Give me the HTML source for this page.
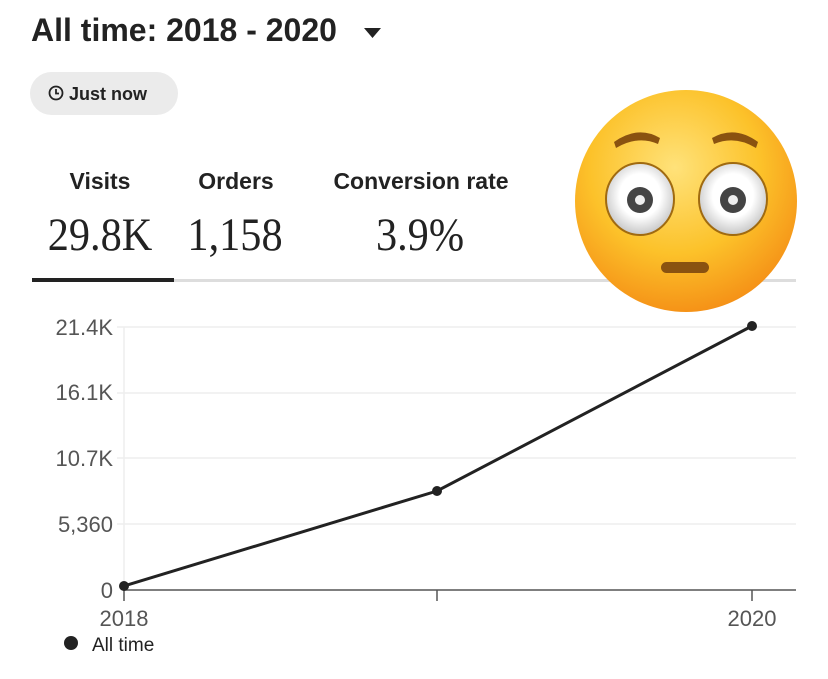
<!DOCTYPE html>
<html><head><style>
body{margin:0;width:828px;height:679px;background:#fff;position:relative;overflow:hidden;font-family:"Liberation Sans",sans-serif;color:#222}
.a{position:absolute;white-space:nowrap}
.lab{font-weight:bold;font-size:23px;transform:translateX(-50%);top:168px;color:#222}
.val{font-family:"Liberation Serif",serif;font-size:47px;top:208px;transform:translateX(-50%) scaleX(0.9);color:#222}
</style></head><body>
<div class="a" style="left:31px;top:12px;font-size:32px;font-weight:bold;color:#222">All time: 2018 - 2020</div>
<svg class="a" style="left:364px;top:28px" width="18" height="12"><polygon points="0,0 17,0 8.5,10" fill="#222"/></svg>
<div class="a" style="left:30px;top:72px;width:148px;height:43px;border-radius:22px;background:#ebebeb"></div>
<svg class="a" style="left:47px;top:84px" width="18" height="18"><circle cx="9" cy="9" r="6.5" fill="none" stroke="#222" stroke-width="1.8"/><path d="M9 5v4.5h3" fill="none" stroke="#222" stroke-width="1.8"/></svg>
<div class="a" style="left:69px;top:84px;font-size:18px;font-weight:bold;color:#222">Just now</div>
<div class="a lab" style="left:100px">Visits</div>
<div class="a lab" style="left:236px">Orders</div>
<div class="a lab" style="left:421px">Conversion rate</div>
<div class="a val" style="left:100px">29.8K</div>
<div class="a val" style="left:235px">1,158</div>
<div class="a val" style="left:420px">3.9%</div>
<div class="a" style="left:32px;top:279px;width:764px;height:3px;background:#ddd"></div>
<div class="a" style="left:32px;top:278px;width:142px;height:4px;background:#222"></div>
<svg class="a" style="left:0;top:0" width="828" height="679">
<g stroke="#eee" stroke-width="1.5">
<line x1="124" y1="327" x2="796" y2="327"/><line x1="124" y1="393" x2="796" y2="393"/><line x1="124" y1="458" x2="796" y2="458"/><line x1="124" y1="524" x2="796" y2="524"/><line x1="124" y1="327" x2="124" y2="590"/>
</g>
<g stroke="#eee" stroke-width="1.5"><line x1="117" y1="327" x2="124" y2="327"/><line x1="117" y1="393" x2="124" y2="393"/><line x1="117" y1="458" x2="124" y2="458"/><line x1="117" y1="524" x2="124" y2="524"/></g>
<line x1="124" y1="590" x2="796" y2="590" stroke="#555" stroke-width="1.5"/>
<g stroke="#555" stroke-width="1.5"><line x1="124" y1="590" x2="124" y2="601"/><line x1="437" y1="590" x2="437" y2="601"/><line x1="752" y1="590" x2="752" y2="601"/></g>
<polyline points="124,586 437,491 752,326" fill="none" stroke="#222" stroke-width="3"/>
<circle cx="124" cy="586" r="5" fill="#222"/><circle cx="437" cy="491" r="5" fill="#222"/><circle cx="752" cy="326" r="5" fill="#222"/>
<circle cx="71" cy="643" r="7" fill="#222"/>
<text x="92" y="651" font-size="19" fill="#222" font-family="Liberation Sans">All time</text>
<text x="124" y="626" font-size="22" fill="#555" text-anchor="middle" font-family="Liberation Sans">2018</text>
<text x="752" y="626" font-size="22" fill="#555" text-anchor="middle" font-family="Liberation Sans">2020</text>
<g font-size="22" fill="#555" text-anchor="end" font-family="Liberation Sans">
<text x="113" y="335">21.4K</text><text x="113" y="400">16.1K</text><text x="113" y="466">10.7K</text><text x="113" y="532">5,360</text><text x="113" y="598">0</text></g>
<defs>
<radialGradient id="f" cx="45%" cy="35%" r="70%"><stop offset="0" stop-color="#ffe27a"/><stop offset="0.55" stop-color="#fcc22a"/><stop offset="1" stop-color="#f48a14"/></radialGradient>
<radialGradient id="e" cx="50%" cy="45%" r="60%"><stop offset="0.5" stop-color="#fff"/><stop offset="1" stop-color="#bbb"/></radialGradient>
</defs>
<circle cx="686" cy="201" r="111" fill="url(#f)"/>
<ellipse cx="640" cy="199" rx="34" ry="36" fill="url(#e)" stroke="#a06a10" stroke-width="2"/>
<ellipse cx="733" cy="199" rx="34" ry="36" fill="url(#e)" stroke="#a06a10" stroke-width="2"/>
<circle cx="640" cy="200" r="13" fill="#444"/><circle cx="733" cy="200" r="13" fill="#444"/>
<circle cx="640" cy="200" r="5" fill="#eee"/><circle cx="733" cy="200" r="5" fill="#eee"/>
<path d="M614 142 Q638 125 660 138 L658 144 Q638 135 616 148Z" fill="#8a5210"/>
<path d="M712 138 Q735 125 758 142 L756 148 Q735 135 714 144Z" fill="#8a5210"/>
<rect x="661" y="262" width="48" height="11" rx="5.5" fill="#8a5210"/>
</svg>
</body></html>
